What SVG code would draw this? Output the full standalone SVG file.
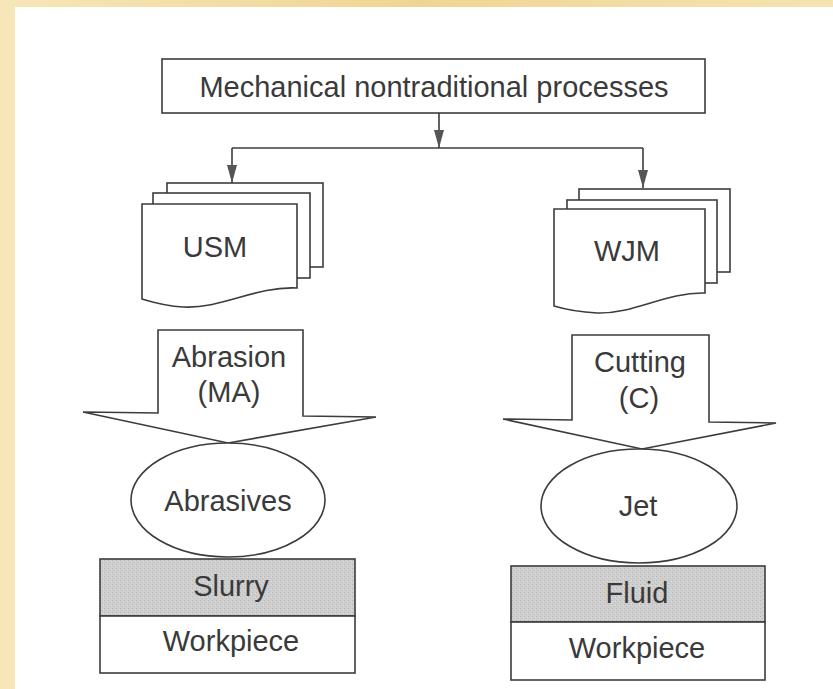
<svg xmlns="http://www.w3.org/2000/svg" width="833" height="689" viewBox="0 0 833 689">
  <defs>
    <linearGradient id="frame" x1="0" y1="0" x2="1" y2="0">
      <stop offset="0" stop-color="#f7e6b8"/>
      <stop offset="0.5" stop-color="#efd595"/>
      <stop offset="1" stop-color="#f6e3b1"/>
    </linearGradient>
    <pattern id="stipple" width="4" height="4" patternUnits="userSpaceOnUse">
      <rect width="4" height="4" fill="#cfcfcf"/>
      <rect x="0" y="0" width="1" height="1" fill="#b4b4b4"/>
      <rect x="2" y="2" width="1" height="1" fill="#bcbcbc"/>
      <rect x="3" y="1" width="1" height="1" fill="#dedede"/>
    </pattern>
    <!-- slim filled arrowhead, tip at the end of the line -->
    <marker id="arrow" viewBox="0 0 18 10" refX="18" refY="5" markerWidth="18" markerHeight="10" markerUnits="userSpaceOnUse" orient="auto">
      <path d="M0,0 L18,5 L0,10 Z" fill="#555"/>
    </marker>
    <style>
      .ln { fill: none; stroke: #3c3c3c; stroke-width: 1.6; }
      .box { fill: #fff; stroke: #3c3c3c; stroke-width: 1.6; }
      .shade { fill: url(#stipple); stroke: #3c3c3c; stroke-width: 1.6; }
      .t { font-family: "Liberation Sans", Arial, sans-serif; fill: #3a3a3a; text-anchor: middle; font-size: 29px; }
    </style>
  </defs>

  <!-- slide frame -->
  <rect x="0" y="0" width="833" height="689" fill="url(#frame)"/>
  <rect x="15" y="7" width="818" height="682" fill="#fff"/>

  <!-- connectors -->
  <g id="connectors">
    <path class="ln" d="M439,113 V148" marker-end="url(#arrow)"/>
    <path class="ln" d="M232,148 H643"/>
    <path class="ln" d="M232,148 V183" marker-end="url(#arrow)"/>
    <path class="ln" d="M643,148 V188" marker-end="url(#arrow)"/>
  </g>

  <g id="root">
    <rect class="box" x="162" y="59" width="543" height="54"/>
    <text class="t" x="434" y="97" font-size="31">Mechanical nontraditional processes</text>
  </g>

  <g id="usm">
    <rect class="box" x="167" y="183" width="156" height="84"/>
    <rect class="box" x="153" y="193" width="157" height="85"/>
    <path class="box" d="M142,204 H297 V288 C255,286 222,309 183,307 C165,306 152,302 142,299 Z"/>
    <text class="t" x="215" y="257" font-size="30">USM</text>
  </g>

  <g id="wjm">
    <rect class="box" x="579" y="189" width="151" height="83"/>
    <rect class="box" x="567" y="200" width="150" height="83"/>
    <path class="box" d="M554,209 H705 V293 C665,292 635,314 597,313 C578,312 564,309 554,306 Z"/>
    <text class="t" x="627" y="261" font-size="30">WJM</text>
  </g>

  <g id="abrasion">
    <path class="box" d="M158,330 H303 V416 L376,417 L228,443 L83,412 L158,413 Z"/>
    <text class="t" x="229" y="367">Abrasion</text>
    <text class="t" x="229" y="402">(MA)</text>
  </g>

  <g id="cutting">
    <path class="box" d="M572,335 H709 V422 L776,423 L642,449 L503,419 L572,420 Z"/>
    <text class="t" x="640" y="372">Cutting</text>
    <text class="t" x="639" y="408">(C)</text>
  </g>

  <g id="abrasives">
    <ellipse class="box" cx="228" cy="500" rx="97" ry="57"/>
    <text class="t" x="228" y="511">Abrasives</text>
  </g>

  <g id="jet">
    <ellipse class="box" cx="639" cy="506" rx="98" ry="57"/>
    <text class="t" x="638" y="516">Jet</text>
  </g>

  <g id="slurry-stack">
    <rect class="shade" x="100" y="559" width="255" height="57"/>
    <rect class="box" x="100" y="616" width="255" height="57"/>
    <text class="t" x="231" y="596">Slurry</text>
    <text class="t" x="231" y="651">Workpiece</text>
  </g>

  <g id="fluid-stack">
    <rect class="shade" x="511" y="566" width="254" height="56"/>
    <rect class="box" x="511" y="622" width="254" height="58"/>
    <text class="t" x="637" y="603">Fluid</text>
    <text class="t" x="637" y="658">Workpiece</text>
  </g>
</svg>
